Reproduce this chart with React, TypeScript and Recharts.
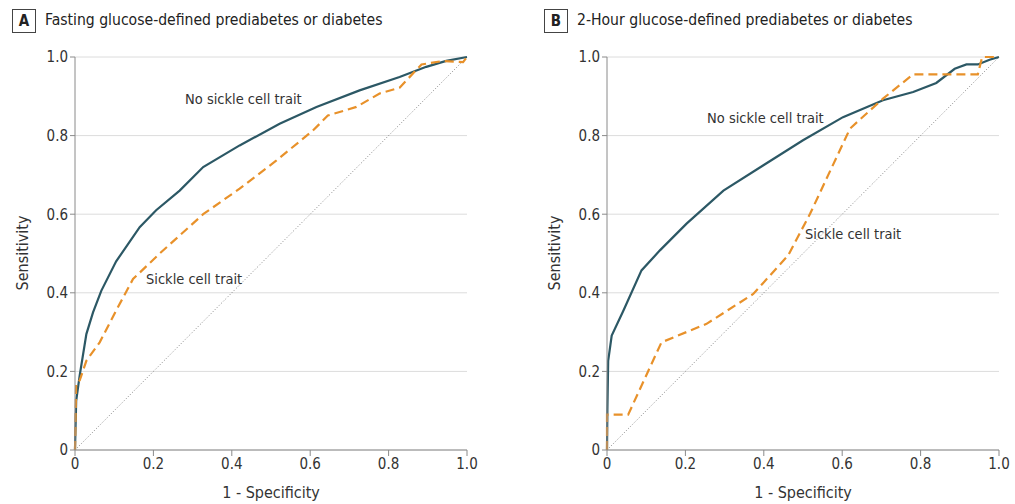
import React from 'react';
import { LineChart, Line, XAxis, YAxis, CartesianGrid } from 'recharts';

// ROC points: [1 - specificity, sensitivity]
const fastingNoTrait: [number, number][] = [
  [0, 0], [0.003, 0.125], [0.012, 0.19], [0.029, 0.295], [0.046, 0.35], [0.067, 0.405],
  [0.105, 0.48], [0.165, 0.567], [0.207, 0.61], [0.267, 0.66], [0.327, 0.72], [0.42, 0.775],
  [0.522, 0.83], [0.616, 0.873], [0.726, 0.915], [0.828, 0.949], [0.896, 0.975], [0.947, 0.99], [1, 1],
];
const fastingTrait: [number, number][] = [
  [0, 0], [0.003, 0.17], [0.012, 0.177], [0.029, 0.227], [0.063, 0.274], [0.105, 0.355],
  [0.148, 0.435], [0.216, 0.5], [0.327, 0.6], [0.42, 0.665], [0.514, 0.737], [0.607, 0.813],
  [0.645, 0.851], [0.718, 0.873], [0.777, 0.907], [0.828, 0.922], [0.884, 0.981], [0.939, 0.99],
  [0.99, 0.987], [1, 1],
];
const twoHourNoTrait: [number, number][] = [
  [0, 0], [0.001, 0.1], [0.003, 0.227], [0.012, 0.291], [0.042, 0.355], [0.088, 0.457],
  [0.135, 0.508], [0.203, 0.576], [0.297, 0.66], [0.398, 0.724], [0.5, 0.788], [0.602, 0.847],
  [0.704, 0.89], [0.781, 0.911], [0.84, 0.934], [0.887, 0.97], [0.917, 0.981], [0.946, 0.981],
  [0.976, 0.993], [1, 1],
];
const twoHourTrait: [number, number][] = [
  [0, 0], [0, 0.09], [0.054, 0.09], [0.139, 0.274], [0.254, 0.321], [0.373, 0.397],
  [0.462, 0.495], [0.518, 0.601], [0.62, 0.818], [0.704, 0.894], [0.781, 0.956],
  [0.946, 0.956], [0.957, 1], [1, 1],
];
const chance: [number, number][] = [[0, 0], [1, 1]];
const ticks = [0, 0.2, 0.4, 0.6, 0.8, 1.0];

const TEAL = '#2c5865';
const ORANGE = '#e8912a';
const FONT = '"DejaVu Sans Condensed", "Open Sans", sans-serif';

const toRows = (pts: [number, number][]) => pts.map(([x, y]) => ({ x, y }));
const fmt = (v: number) => (v === 0 ? '0' : v.toFixed(1));

function Panel({ noTrait, trait, width }: { noTrait: [number, number][]; trait: [number, number][]; width: number }) {
  return (
    <LineChart width={width} height={504} margin={{ top: 57, right: width - 75 - 392, left: 35, bottom: 24 }}>
      <CartesianGrid vertical={false} stroke="#dcdcdc" />
      <XAxis
        type="number"
        dataKey="x"
        domain={[0, 1]}
        ticks={ticks}
        tickFormatter={fmt}
        height={30}
        stroke="#8a8a8a"
        tickSize={6}
        tick={{ fontSize: 15, fill: '#333' }}
        allowDuplicatedCategory={false}
      />
      <YAxis
        type="number"
        dataKey="y"
        domain={[0, 1]}
        ticks={ticks}
        tickFormatter={fmt}
        width={40}
        stroke="#8a8a8a"
        tickSize={5}
        tick={{ fontSize: 15, fill: '#333' }}
      />
      <Line data={toRows(chance)} dataKey="y" stroke="#777" strokeWidth={0.9} strokeDasharray="1 2" dot={false} isAnimationActive={false} />
      <Line data={toRows(noTrait)} dataKey="y" type="linear" stroke={TEAL} strokeWidth={2.2} dot={false} isAnimationActive={false} />
      <Line data={toRows(trait)} dataKey="y" type="linear" stroke={ORANGE} strokeWidth={2.2} strokeDasharray="9 5" dot={false} isAnimationActive={false} />
    </LineChart>
  );
}

const abs = (left: number, top: number, extra: React.CSSProperties = {}): React.CSSProperties => ({
  position: 'absolute', left, top, whiteSpace: 'nowrap', ...extra,
});

function Header({ left, letter, title }: { left: number; letter: string; title: string }) {
  return (
    <>
      <div style={abs(left, 9, { width: 22, height: 22, border: '1px solid #444', fontWeight: 'bold', fontSize: 15, textAlign: 'center', lineHeight: '22px', color: '#222' })}>{letter}</div>
      <div style={abs(left + 33, 9, { fontSize: 15.6, lineHeight: '22px', color: '#222' })}>{title}</div>
    </>
  );
}

export default function App() {
  const label: React.CSSProperties = { fontSize: 14.5, color: '#333' };
  const axisTitle: React.CSSProperties = { fontSize: 16, color: '#333' };
  return (
    <div style={{ position: 'absolute', left: 0, top: 0, width: 1015, height: 504, background: '#fff', fontFamily: FONT, color: '#333' }}>
      <div style={abs(0, 0)}>
        <Panel noTrait={fastingNoTrait} trait={fastingTrait} width={500} />
      </div>
      <div style={abs(532, 0)}>
        <Panel noTrait={twoHourNoTrait} trait={twoHourTrait} width={483} />
      </div>
      <Header left={12} letter="A" title="Fasting glucose-defined prediabetes or diabetes" />
      <Header left={544} letter="B" title="2-Hour glucose-defined prediabetes or diabetes" />
      <div style={abs(185, 91, label)}>No sickle cell trait</div>
      <div style={abs(146, 271, label)}>Sickle cell trait</div>
      <div style={abs(707, 110, label)}>No sickle cell trait</div>
      <div style={abs(805, 226, label)}>Sickle cell trait</div>
      <div style={abs(271, 492, { ...axisTitle, transform: 'translate(-50%, -50%)' })}>1 - Specificity</div>
      <div style={abs(803, 492, { ...axisTitle, transform: 'translate(-50%, -50%)' })}>1 - Specificity</div>
      <div style={abs(22, 253, { ...axisTitle, transform: 'translate(-50%, -50%) rotate(-90deg)' })}>Sensitivity</div>
      <div style={abs(554, 253, { ...axisTitle, transform: 'translate(-50%, -50%) rotate(-90deg)' })}>Sensitivity</div>
    </div>
  );
}
